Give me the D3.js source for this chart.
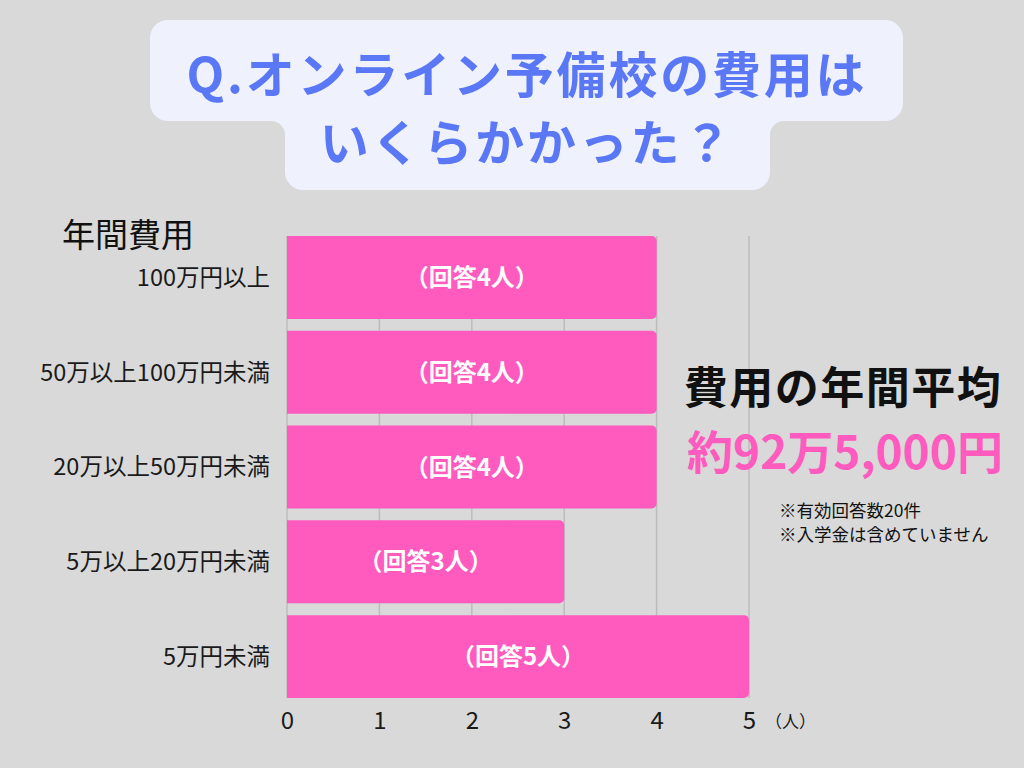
<!DOCTYPE html>
<html>
<head>
<meta charset="utf-8">
<script src="https://cdn.jsdelivr.net/npm/d3@7"></script>
<style>
  html, body { margin: 0; padding: 0; background: #d9d9d9; }
  svg { display: block; font-family: "Noto Sans CJK JP", "Noto Sans", sans-serif; }
</style>
</head>
<body>
<svg id="chart" width="1024" height="768"></svg>
<script>
const categories = ["100万円以上", "50万以上100万円未満", "20万以上50万円未満", "5万以上20万円未満", "5万円未満"];
const counts = [4, 4, 4, 3, 5];
const xTicks = [0, 1, 2, 3, 4, 5];
const titleLines = ["Q.オンライン予備校の費用は", "いくらかかった？"];
const notes = ["※有効回答数20件", "※入学金は含めていません"];

const PINK = "#ff5abe", BLUE = "#5a78f5";

const svg = d3.select("#chart");

// title box (two stacked rounded rects joined with inner fillets)
svg.append("path")
  .attr("d", "M168,20 H885 A18,18 0 0 1 903,38 V103 A18,18 0 0 1 885,121 H784 A14,14 0 0 0 770,135 V172 A18,18 0 0 1 752,190 H303 A18,18 0 0 1 285,172 V135 A14,14 0 0 0 271,121 H168 A18,18 0 0 1 150,103 V38 A18,18 0 0 1 168,20 Z")
  .attr("fill", "#eff2fd");

svg.selectAll(".title")
  .data(titleLines)
  .join("text")
  .attr("class", "title")
  .attr("x", 527)
  .attr("y", (d, i) => 93 + i * 68)
  .attr("text-anchor", "middle")
  .attr("fill", BLUE)
  .attr("font-size", 49)
  .attr("font-weight", "bold")
  .attr("letter-spacing", 2.8)
  .text(d => d);

// chart
const x = d3.scaleLinear().domain([0, 5]).range([287, 749]);
const y = d3.scaleBand().domain(categories).range([230, 704]).paddingInner(0.125).paddingOuter(0.0625);

const plotTop = y(categories[0]);
const plotBottom = y(categories[categories.length - 1]) + y.bandwidth();

svg.append("g")
  .selectAll("line")
  .data(xTicks)
  .join("line")
  .attr("x1", d => x(d)).attr("x2", d => x(d))
  .attr("y1", plotTop).attr("y2", plotBottom)
  .attr("stroke", "#bcbcbc")
  .attr("stroke-width", 1.5);

const r = 5;
svg.append("g")
  .selectAll("path")
  .data(categories)
  .join("path")
  .attr("fill", PINK)
  .attr("d", (c, i) => {
    const x0 = x(0), x1 = x(counts[i]), y0 = y(c), y1 = y0 + y.bandwidth();
    return `M${x0},${y0} H${x1 - r} A${r},${r} 0 0 1 ${x1},${y0 + r} V${y1 - r} A${r},${r} 0 0 1 ${x1 - r},${y1} H${x0} Z`;
  });

svg.append("g")
  .selectAll("text")
  .data(categories)
  .join("text")
  .attr("x", (c, i) => (x(0) + x(counts[i])) / 2)
  .attr("y", c => y(c) + y.bandwidth() / 2)
  .attr("dy", "0.36em")
  .attr("text-anchor", "middle")
  .attr("fill", "#fff")
  .attr("font-size", 24)
  .attr("font-weight", "bold")
  .text((c, i) => `（回答${counts[i]}人）`);

// category labels
svg.append("g")
  .selectAll("text")
  .data(categories)
  .join("text")
  .attr("x", 270)
  .attr("y", c => y(c) + y.bandwidth() / 2)
  .attr("dy", "0.36em")
  .attr("text-anchor", "end")
  .attr("fill", "#1a1a1a")
  .attr("font-size", 23.5)
  .text(d => d);

svg.append("text")
  .attr("x", 62).attr("y", 247)
  .attr("fill", "#111")
  .attr("font-size", 33)
  .text("年間費用");

// x axis
const xAxis = svg.append("g")
  .attr("transform", `translate(0,${plotBottom + 11})`)
  .call(d3.axisBottom(x).tickValues(xTicks).tickSize(0).tickFormat(d3.format("d")));
xAxis.select(".domain").remove();
xAxis.selectAll("text")
  .attr("font-family", "'Noto Sans CJK JP', sans-serif")
  .attr("font-size", 24)
  .attr("fill", "#1a1a1a");

svg.append("text")
  .attr("x", 765).attr("y", 728)
  .attr("fill", "#1a1a1a")
  .attr("font-size", 17)
  .text("（人）");

// summary
svg.append("text")
  .attr("x", 843).attr("y", 404)
  .attr("text-anchor", "middle")
  .attr("fill", "#111")
  .attr("font-size", 44)
  .attr("font-weight", "bold")
  .attr("letter-spacing", 1.5)
  .text("費用の年間平均");

svg.append("text")
  .attr("x", 845).attr("y", 469)
  .attr("text-anchor", "middle")
  .attr("fill", PINK)
  .attr("font-size", 46)
  .attr("font-weight", "bold")
  .text("約92万5,000円");

svg.selectAll(".note")
  .data(notes)
  .join("text")
  .attr("class", "note")
  .attr("x", 779)
  .attr("y", (d, i) => 517 + i * 24)
  .attr("fill", "#111")
  .attr("font-size", 17.5)
  .text(d => d);
</script>
</body>
</html>
